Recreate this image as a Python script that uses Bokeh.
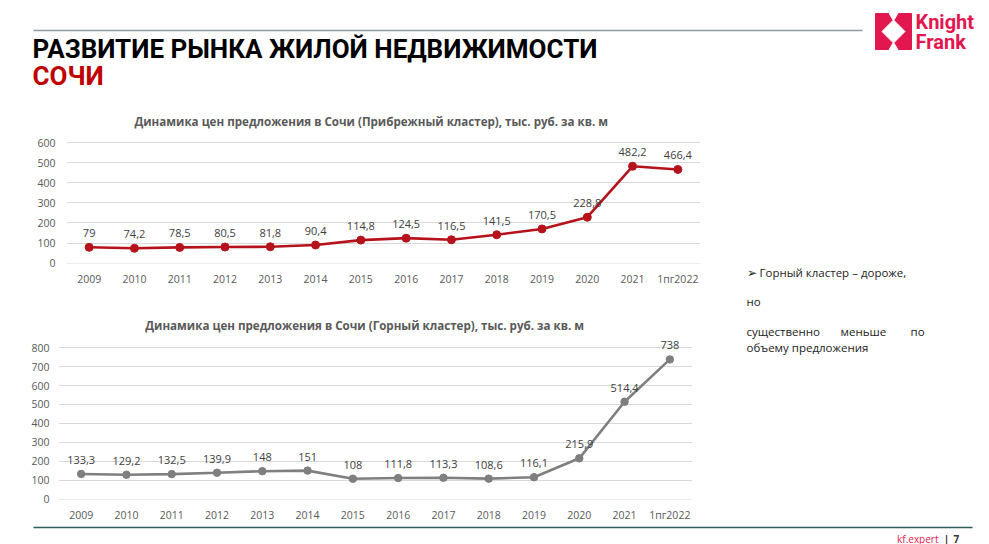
from bokeh.plotting import figure
from bokeh.models import Range1d, FactorRange, FixedTicker, LabelSet, ColumnDataSource, Label, Spacer
from bokeh.layouts import column, row
from bokeh.embed import file_html
from bokeh.resources import INLINE
from bokeh.core.properties import value

# ---------------- data ----------------
years = ["2009", "2010", "2011", "2012", "2013", "2014", "2015", "2016",
         "2017", "2018", "2019", "2020", "2021", "1пг2022"]
coastal = [79, 74.2, 78.5, 80.5, 81.8, 90.4, 114.8, 124.5, 116.5, 141.5,
           170.5, 228.8, 482.2, 466.4]
mountain = [133.3, 129.2, 132.5, 139.9, 148, 151, 108, 111.8, 113.3, 108.6,
            116.1, 215.9, 514.4, 738]
ticks1 = [0, 100, 200, 300, 400, 500, 600]
ticks2 = [0, 100, 200, 300, 400, 500, 600, 700, 800]
title1 = "Динамика цен предложения в Сочи (Прибрежный кластер), тыс. руб. за кв. м"
title2 = "Динамика цен предложения в Сочи (Горный кластер), тыс. руб. за кв. м"
page_title = "РАЗВИТИЕ РЫНКА ЖИЛОЙ НЕДВИЖИМОСТИ"
page_sub = "СОЧИ"
note_lines = ["➢ Горный кластер – дороже,", "но"]
note_words = ["существенно", "меньше", "по"]
note_last = "объему предложения"

PINK = "#e3174f"
FONT = "Open Sans"
HEAD = "Roboto"


def fmt(v):
    return f"{v:g}".replace(".", ",")


def deco(w, h, x0, x1, y0, y1):
    f = figure(width=w, height=h, x_range=Range1d(x0, x1), y_range=Range1d(y1, y0),
               output_backend="svg", toolbar_location=None, min_border=0,
               x_axis_location=None, y_axis_location=None)
    f.grid.visible = False
    f.outline_line_color = None
    f.background_fill_color = "white"
    f.border_fill_color = "white"
    return f


def txt(f, x, y, s, size, color="#222222", font=FONT, style="normal",
        align="left", baseline="middle"):
    f.add_layout(Label(x=x, y=y, text=s, text_font_size=size, text_color=color,
                       text_font=font, text_font_style=style, text_align=align,
                       text_baseline=baseline))


def chart(vals, ticks, color, ystart, yend, title, title_x, title_y, h, bb,
          lab_standoff, size):
    src = ColumnDataSource(dict(x=years, y=vals, lab=[fmt(v) for v in vals]))
    p = figure(width=712, height=h, x_range=FactorRange(*years),
               y_range=Range1d(ystart, yend), output_backend="svg",
               toolbar_location=None, min_border_left=58, min_border_right=20,
               min_border_top=0, min_border_bottom=bb)
    p.outline_line_color = None
    p.background_fill_color = "white"
    p.border_fill_color = "white"
    p.xgrid.visible = False
    p.ygrid.grid_line_color = "#d9d9d9"
    p.ygrid.grid_line_width = 1
    p.yaxis.ticker = FixedTicker(ticks=ticks)
    for ax in (p.xaxis, p.yaxis):
        ax.axis_line_color = None
        ax.major_tick_line_color = None
        ax.minor_tick_line_color = None
        ax.major_tick_out = 0
        ax.major_tick_in = 0
        ax.major_label_text_font = FONT
        ax.major_label_text_font_size = "10.5px"
        ax.major_label_text_color = "#595959"
    p.yaxis.major_label_standoff = lab_standoff
    p.xaxis.major_label_standoff = 8
    p.line("x", "y", source=src, line_color=color, line_width=2.6)
    p.scatter("x", "y", source=src, size=size, fill_color=color, line_color=color)
    p.add_layout(LabelSet(x="x", y="y", text="lab", source=src, text_align="center",
                          text_baseline="middle", y_offset=14,
                          text_font_size="11px", text_color="#404040",
                          text_font=value(FONT)))
    p.add_layout(Label(x=title_x, y=title_y, text=title, text_align="center",
                       text_baseline="middle", text_font=FONT,
                       text_font_style="bold", text_font_size="11.6px",
                       text_color="#595959"))
    return p


# ---------------- header ----------------
hdr = deco(989, 108, 0, 989, 0, 108)
hdr.line([33, 862], [30, 30], line_color="#8d9aa1", line_width=1.5)
txt(hdr, 32, 48, page_title, "26px", "#000000", HEAD, "bold")
txt(hdr, 32, 75.5, page_sub, "26px", "#c00000", HEAD, "bold")
# logo
lx, ly, ls = 875, 13, 36
hdr.patch([lx, lx + ls, lx + ls, lx], [ly, ly, ly + ls, ly + ls], color=PINK)
hdr.patch([lx + ls * 0.5, lx + ls * 0.82, lx + ls * 0.5, lx + ls * 0.18],
          [ly + ls * 0.18, ly + ls * 0.5, ly + ls * 0.82, ly + ls * 0.5], color="white")
hdr.patch([lx + ls * 0.38, lx + ls * 0.62, lx + ls * 0.5],
          [ly, ly, ly + ls * 0.2], color="white")
hdr.patch([lx + ls * 0.38, lx + ls * 0.62, lx + ls * 0.5],
          [ly + ls, ly + ls, ly + ls * 0.8], color="white")
txt(hdr, 915, 21, "Knight", "20px", PINK, HEAD, "bold")
txt(hdr, 915, 41, "Frank", "20px", PINK, HEAD, "bold")

# ---------------- charts ----------------
c1 = chart(coastal, ticks1, "#b5121b", -1.5, 769.6, title1, 6.73, 703, 192, 37, 11, 8)
c2 = chart(mountain, ticks2, "#7f7f7f", -1.5, 1049, title2, 6.76, 919, 224, 24, 9, 7.5)
left_col = column(row(Spacer(width=8, height=192), c1),
                  row(c2, Spacer(width=8, height=224)))

# ---------------- right notes ----------------
rt = deco(269, 416, 720, 989, 108, 524)
txt(rt, 746, 272, note_lines[0], "11.5px", "#222222")
txt(rt, 746, 301, note_lines[1], "11.5px", "#222222")
for xw, w in zip([746, 840, 910], note_words):
    txt(rt, xw, 331, w, "11.5px", "#222222")
txt(rt, 746, 347, note_last, "11.5px", "#222222")

# ---------------- footer ----------------
ft = deco(989, 20, 0, 989, 524, 544)
ft.line([33, 972], [527, 527], line_color="#2e5e5a", line_width=1.5)
txt(ft, 938, 538, "kf.expert", "10px", PINK, FONT, "normal", "right", "middle")
txt(ft, 946, 538, "|", "10px", "#333333", FONT, "bold", "center", "middle")
txt(ft, 953, 538, "7", "10px", "#333333", FONT, "bold", "left", "middle")

page = column(hdr, row(left_col, rt), ft)
open("out.html", "w").write(file_html(page, INLINE))
